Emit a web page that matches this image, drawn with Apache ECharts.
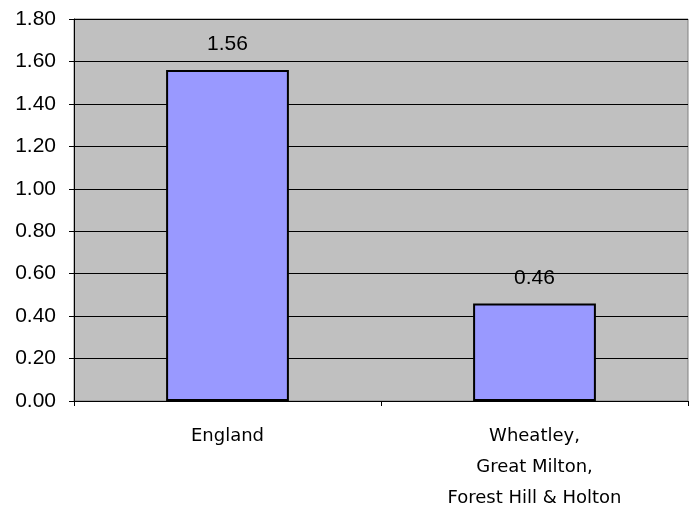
<!DOCTYPE html>
<html><head><meta charset="utf-8">
<script src="https://cdn.jsdelivr.net/npm/echarts@6/dist/echarts.min.js"></script>
<style>html,body{margin:0;padding:0;background:#fff}#c{width:692px;height:506px}</style>
</head><body><div id="c"></div>
<script>
const categories = ['England', 'Wheatley,\nGreat Milton,\nForest Hill & Holton'];
const values = [1.56, 0.46];
const yTicks = { min: 0, max: 1.8, interval: 0.2 };

const chart = echarts.init(document.getElementById('c'), null, {renderer: 'canvas'});
chart.setOption({
  animation: false,
  backgroundColor: '#ffffff',
  grid: { left: 74, right: 4, top: 19, bottom: 105, containLabel: false, outerBoundsMode: 'none',
          show: true, backgroundColor: '#c0c0c0', borderWidth: 1, borderColor: '#808080' },
  xAxis: {
    type: 'category', data: categories,
    axisLine: { lineStyle: { color: '#000', width: 1 } },
    axisTick: { show: true, length: 5, lineStyle: { color: '#000' } },
    axisLabel: { color: '#000', fontFamily: 'DejaVu Sans', fontSize: 18, lineHeight: 31, margin: 20 }
  },
  yAxis: {
    type: 'value', min: yTicks.min, max: yTicks.max, interval: yTicks.interval,
    axisLine: { show: true, lineStyle: { color: '#000', width: 1 } },
    axisTick: { show: true, length: 5, lineStyle: { color: '#000' } },
    splitLine: { lineStyle: { color: '#000', width: 1 } },
    axisLabel: { color: '#000', fontFamily: 'Liberation Sans', fontSize: 21, margin: 18, formatter: v => v.toFixed(2) }
  },
  series: [{
    type: 'bar', data: values, barWidth: '40%',
    itemStyle: { color: '#9999ff', borderColor: '#000', borderWidth: 2 },
    label: { show: true, position: 'top', distance: 15, color: '#000', fontFamily: 'Liberation Sans', fontSize: 21, formatter: p => p.value.toFixed(2) }
  }]
});
</script></body></html>
